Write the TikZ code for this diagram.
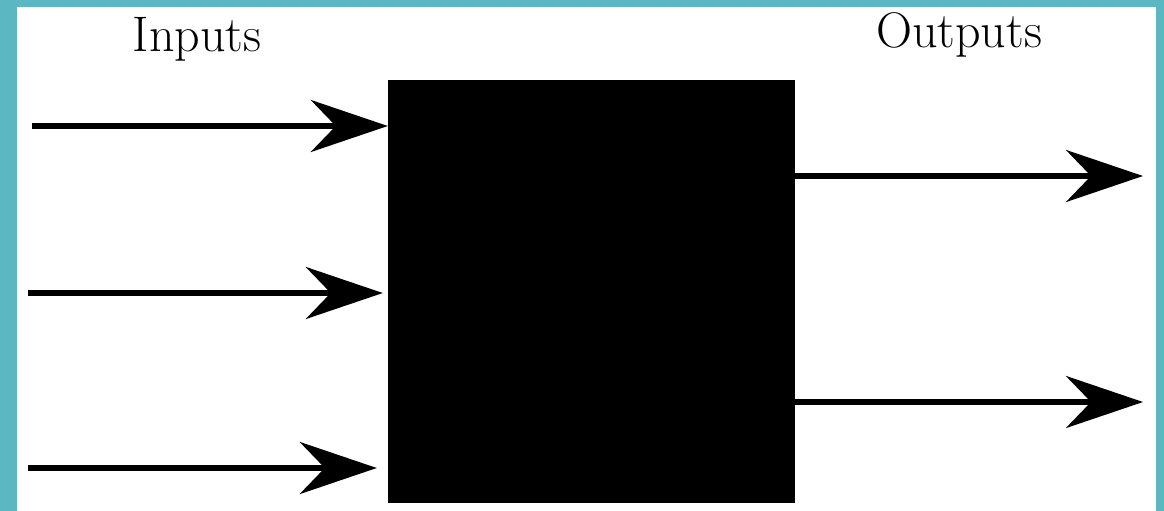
\documentclass[tikz,border=0pt]{standalone}
\usepackage{fontspec}
\usepackage{tikz}
\usetikzlibrary{arrows.meta,shapes}
\definecolor{frame}{RGB}{91,184,194}
\tikzstyle{block}=[rectangle, fill=black
,minimum width=407pt
,minimum height=423pt
,inner sep=0pt
]
\tikzstyle{label} = [inner sep=0pt, anchor=base, font=\fontsize{50}{60}\selectfont]
\tikzstyle{signal} = [draw, line width=5.5pt, -{Stealth[length=77pt,width=52pt,inset=25pt]}]

\begin{document}
\begin{tikzpicture}[x=1pt,y=-1pt]
    % Frame round the picture
    \fill[frame] (0,0) rectangle (1164,511);
    \fill[white] (17,7) rectangle (1156,511);
    \useasboundingbox (0,0) rectangle (1164,511);

    % The black box
    \node[block] (sys) at (591.5,291.5) {};

    % Labels
    \node[label] (inputs) at (197,52) {Inputs};
    \node[label] (outputs) at (959,48) {Outputs};

    % Free ends of the signals
    \foreach \x/\y/\name in {32/126/in1, 28/293/in2, 28/468/in3, 1143/176/out1, 1143/402/out2}
        \coordinate (\name) at (\x,\y);

    % Inputs into the box
    \foreach \source/\gap in {in1/0pt, in2/5pt, in3/11pt}
        \path[signal, shorten >=\gap] (\source) -- (\source -| sys.west);

    % Outputs from the box
    \foreach \dest in {out1, out2}
        \path[signal] (sys.east |- \dest) -- (\dest);

\end{tikzpicture}
\end{document}
